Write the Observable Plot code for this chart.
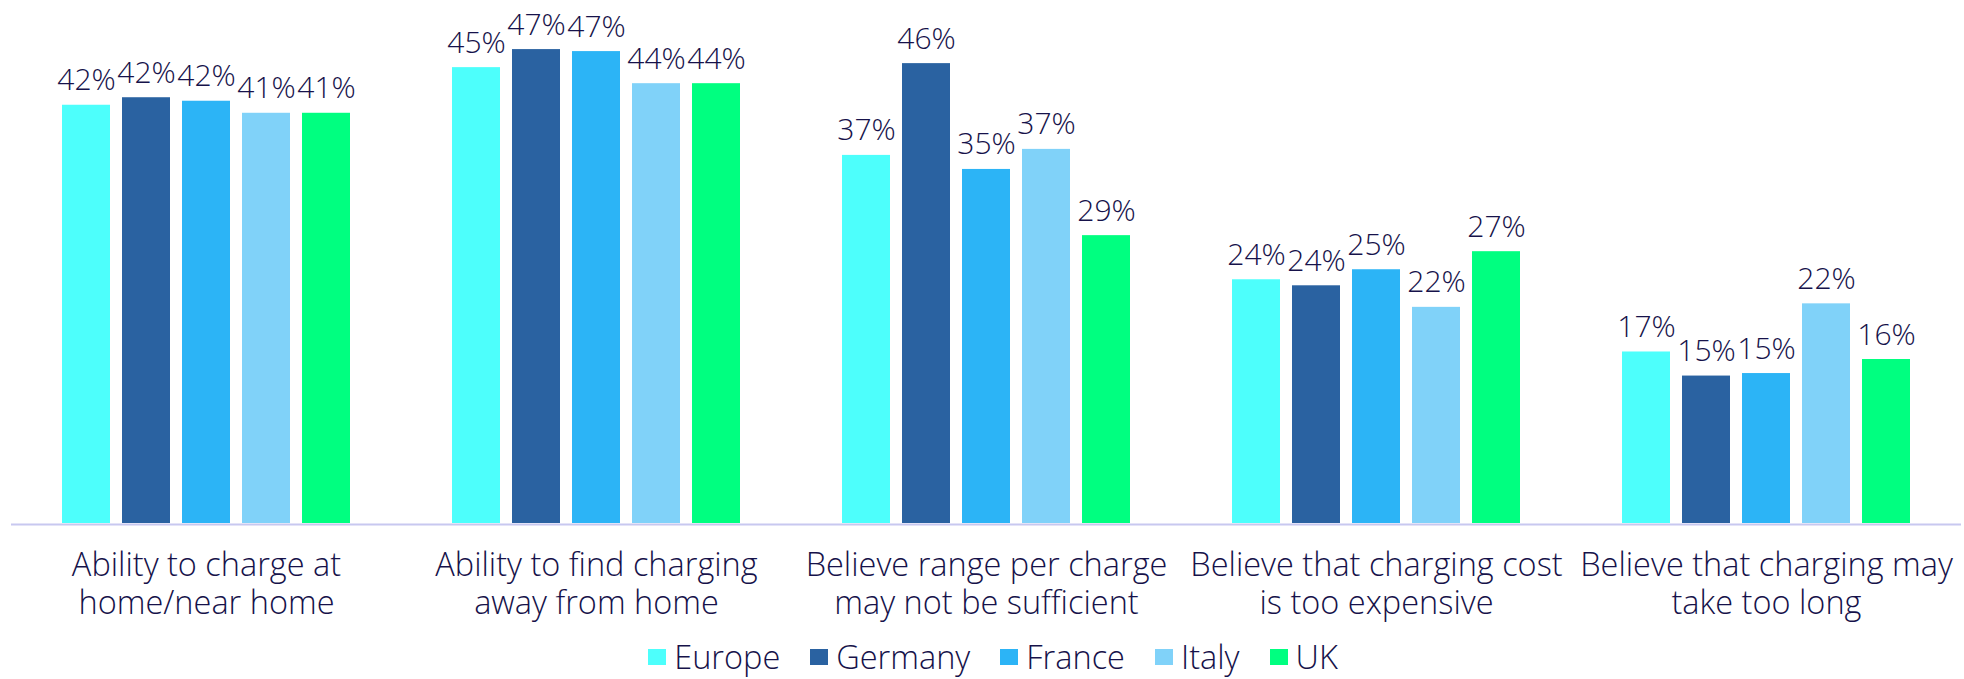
<!DOCTYPE html>
<html>
<head>
<meta charset="utf-8">
<script src="https://cdn.jsdelivr.net/npm/d3@7"></script>
<script src="https://cdn.jsdelivr.net/npm/@observablehq/plot@0.6"></script>
<style>
  html, body { margin: 0; padding: 0; background: #ffffff; }
  #chart { width: 1964px; }
  #chart svg { display: block; }
  .lg-swatches {
    font-family: "Open Sans", sans-serif !important;
    font-size: 32.5px !important;
    font-weight: 300;
    color: #16124a;
    justify-content: center;
    margin: 0 !important;
    padding-left: 52px;
    line-height: 42px;
  }
  .lg-swatch { margin-right: 30px !important; }
  .lg-swatch > svg { margin-right: 8px !important; }
</style>
</head>
<body>
<div id="chart"></div>
<script>
// ---- data ----
const categories = [
  "Ability to charge at\nhome/near home",
  "Ability to find charging\naway from home",
  "Believe range per charge\nmay not be sufficient",
  "Believe that charging cost\nis too expensive",
  "Believe that charging may\ntake too long"
];
const countries = ["Europe", "Germany", "France", "Italy", "UK"];
const europe  = [41.7, 45.45, 36.7, 24.3, 17.1];
const germany = [42.45, 47.25, 45.85, 23.7, 14.7];
const france  = [42.1, 47.05, 35.3, 25.3, 14.95];
const italy   = [40.9, 43.85, 37.3, 21.55, 21.9];
const uk      = [40.9, 43.85, 28.7, 27.1, 16.35];
const colors  = ["#4dfffc", "#2a62a1", "#2cb4f6", "#80d2f9", "#00ff80"];

const series = [europe, germany, france, italy, uk];
const rows = categories.flatMap((c, i) =>
  countries.map((k, j) => ({category: c, country: k, value: series[j][i]}))
);
const fmt = v => Math.round(v) + "%";
const textColor = "#16124a";

const plot = Plot.plot({
  width: 1964,
  height: 636,
  marginLeft: 11,
  marginRight: 3,
  marginTop: 21.5,
  marginBottom: 113,
  style: {fontFamily: "'Open Sans', sans-serif", color: textColor, background: "#ffffff"},
  fx: {domain: categories, padding: 0, label: null},
  x: {domain: countries, paddingInner: 0.2, paddingOuter: 0.85, axis: null},
  y: {domain: [0, 50], axis: null},
  color: {domain: countries, range: colors},
  marks: [
    Plot.barY(rows, {fx: "category", x: "country", y: "value", fill: "country"}),
    Plot.ruleY([0], {stroke: "#c8c8f0", strokeWidth: 2, dy: 1}),
    Plot.text(rows, {
      fx: "category", x: "country", y: "value", text: d => fmt(d.value),
      dy: -15, lineAnchor: "bottom", fontSize: 30, fontWeight: 300, fill: textColor
    }),
    Plot.axisFx({
      anchor: "bottom", tickSize: 0, tickPadding: 25, fontSize: 32.5, fontWeight: 300,
      lineHeight: 1.17, label: null, fill: textColor
    })
  ]
});

const legend = Plot.legend({
  color: {domain: countries, range: colors},
  swatchWidth: 18,
  swatchHeight: 16,
  className: "lg"
});

const root = document.getElementById("chart");
root.appendChild(plot);
root.appendChild(legend);
</script>
</body>
</html>
